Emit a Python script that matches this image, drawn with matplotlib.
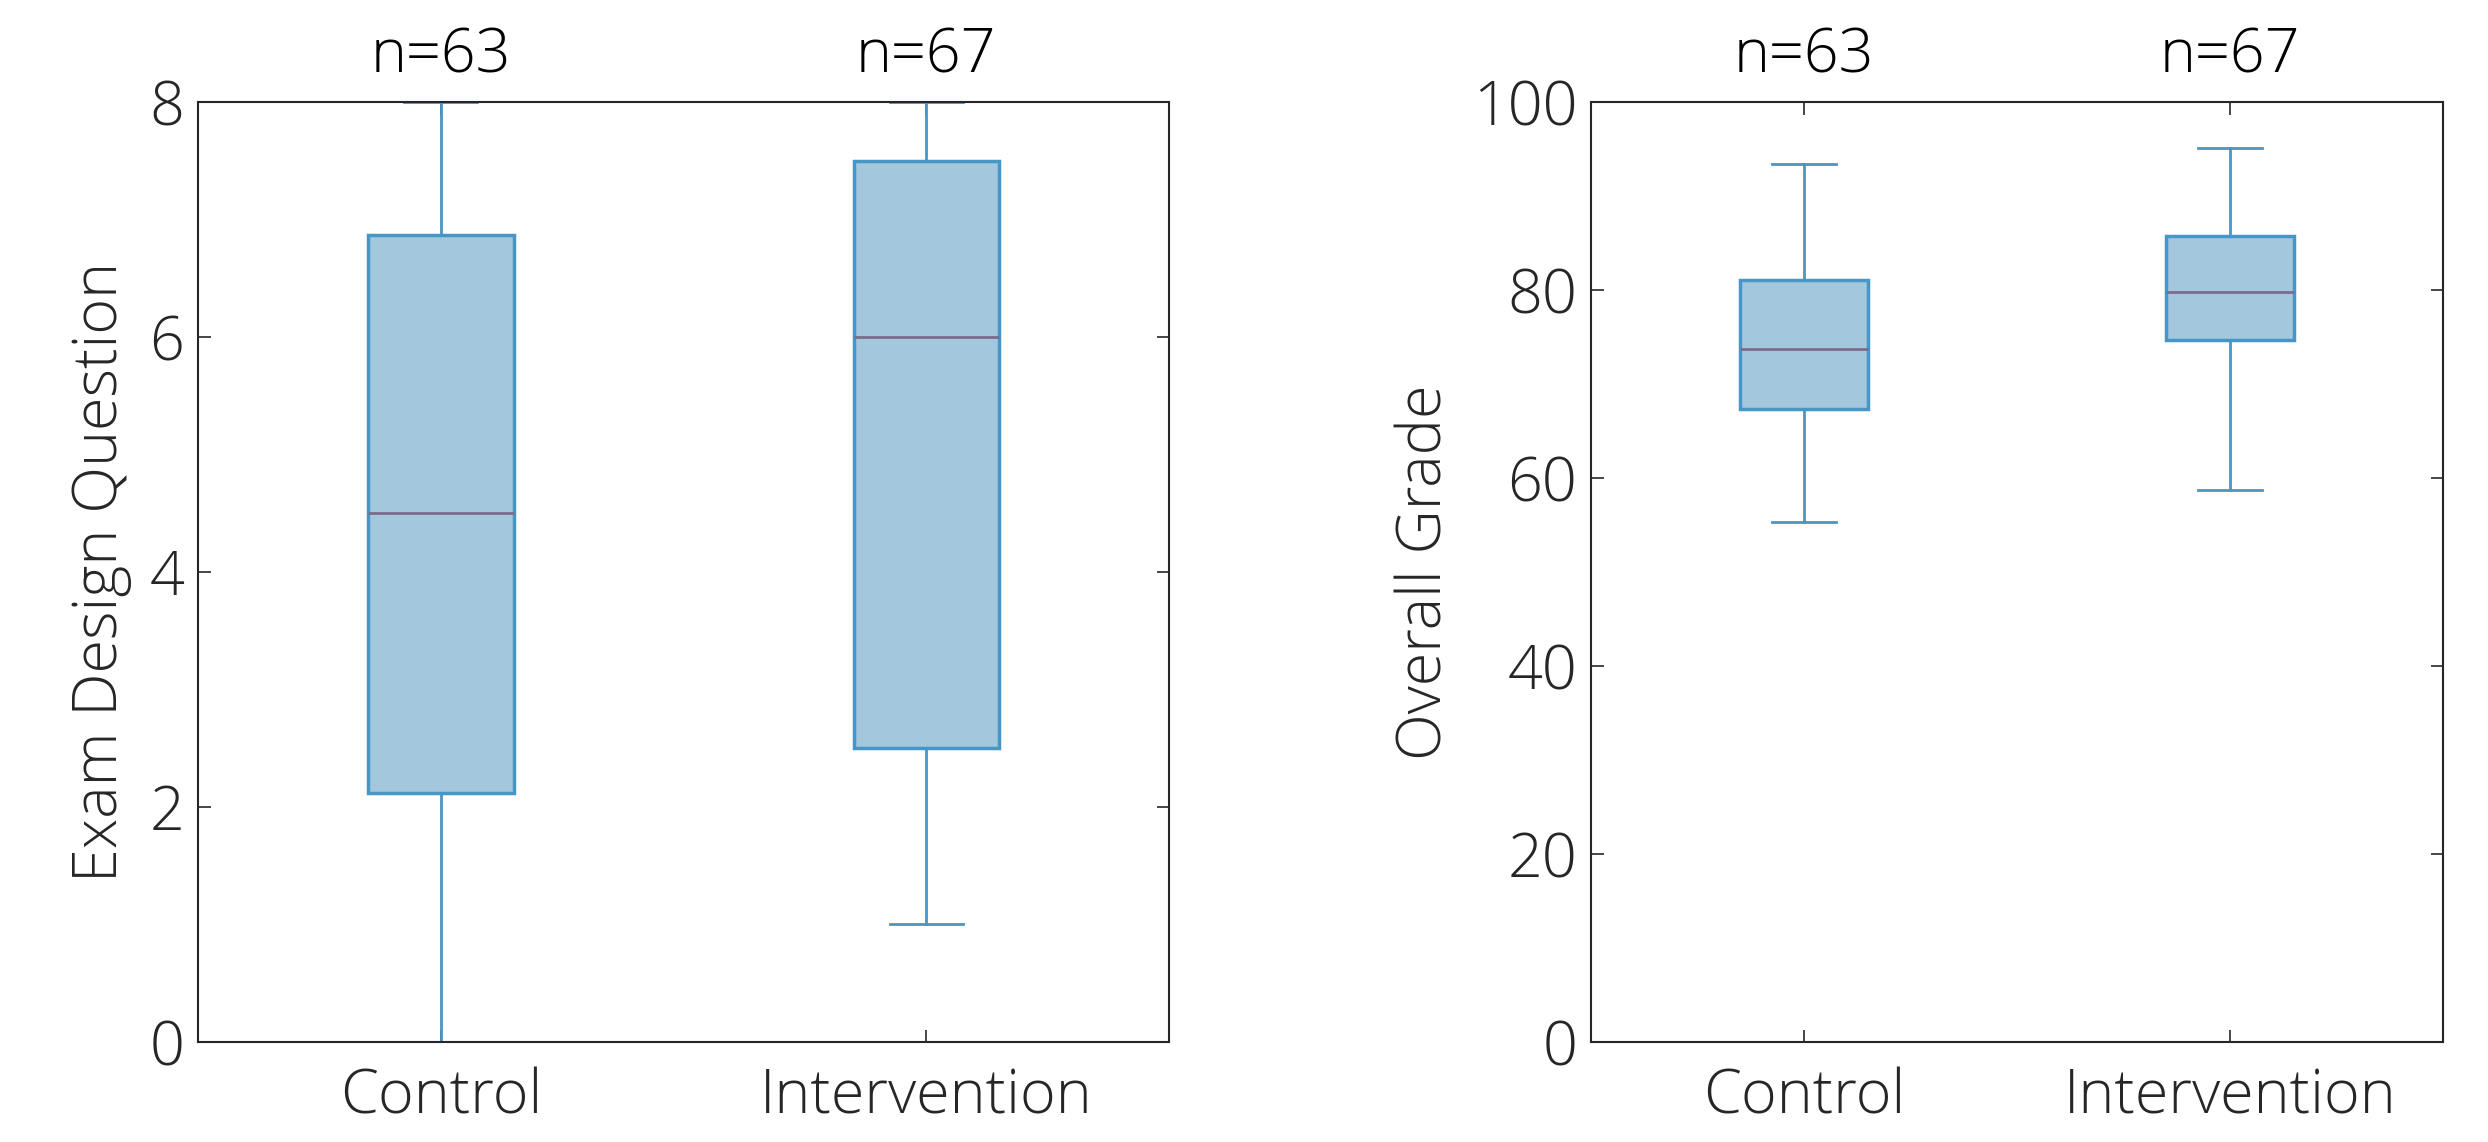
import matplotlib
matplotlib.use("Agg")
import matplotlib.pyplot as plt

categories = ["Control", "Intervention"]
counts = [63, 67]

# Exam design question stats: whislo, q1, med, q3, whishi
exam_whislo = [0.0, 1.0]
exam_q1 = [2.12, 2.5]
exam_med = [4.5, 6.0]
exam_q3 = [6.87, 7.5]
exam_whishi = [8.0, 8.0]

# Overall grade stats
grade_whislo = [55.3, 58.7]
grade_q1 = [67.3, 74.7]
grade_med = [73.7, 79.8]
grade_q3 = [81.1, 85.7]
grade_whishi = [93.4, 95.1]

plt.rcParams['font.family'] = ['Open Sans', 'DejaVu Sans']
FS = 44
TXT = '#262626'
FACE = '#a3c8de'
EDGE = '#4796c6'
MED = '#7d6b8c'

fig = plt.figure(figsize=(24.88, 11.42), dpi=100)
ax1 = fig.add_axes([0.0796, 0.0876, 0.4699 - 0.0796, 0.9107 - 0.0876])
ax2 = fig.add_axes([0.6395, 0.0876, 0.9819 - 0.6395, 0.9107 - 0.0876])


def draw(ax, lo, q1, med, q3, hi, ylim, yticks, ylabel):
    stats = []
    for i, c in enumerate(categories):
        stats.append(dict(label=c, whislo=lo[i], q1=q1[i], med=med[i], q3=q3[i], whishi=hi[i], fliers=[]))
    ax.bxp(stats, positions=[1, 2], widths=0.30, patch_artist=True, showfliers=False,
           boxprops=dict(facecolor=FACE, edgecolor=EDGE, linewidth=2.5),
           medianprops=dict(color=MED, linewidth=2.0),
           whiskerprops=dict(color=EDGE, linewidth=2.0),
           capprops=dict(color=EDGE, linewidth=2.0),
           capwidths=0.15)
    ax.set_xlim(0.5, 2.5)
    ax.set_ylim(*ylim)
    ax.set_yticks(yticks)
    ax.set_xticks([1, 2])
    ax.set_xticklabels(categories)
    ax.tick_params(axis='y', pad=10)
    ax.tick_params(axis='x', pad=18)
    ax.tick_params(direction='in', length=9, width=1.2, colors=TXT, labelsize=FS,
                   top=True, right=True)
    for lbl in ax.get_xticklabels() + ax.get_yticklabels():
        lbl.set_fontweight('light')
    for s in ax.spines.values():
        s.set_color(TXT)
        s.set_linewidth(1.5)
    ax.set_ylabel(ylabel, fontsize=FS, color=TXT, fontweight='light', labelpad=12)
    for i, n in enumerate(counts):
        ax.text(i + 1, 1.015, f"n={n}", transform=ax.get_xaxis_transform(),
                ha='center', va='bottom', fontsize=FS, color='black', fontweight='light')


draw(ax1, exam_whislo, exam_q1, exam_med, exam_q3, exam_whishi, (0, 8), [0, 2, 4, 6, 8], 'Exam Design Question')
draw(ax2, grade_whislo, grade_q1, grade_med, grade_q3, grade_whishi, (0, 100), [0, 20, 40, 60, 80, 100], 'Overall Grade')

fig.savefig('out.png', dpi=100)
